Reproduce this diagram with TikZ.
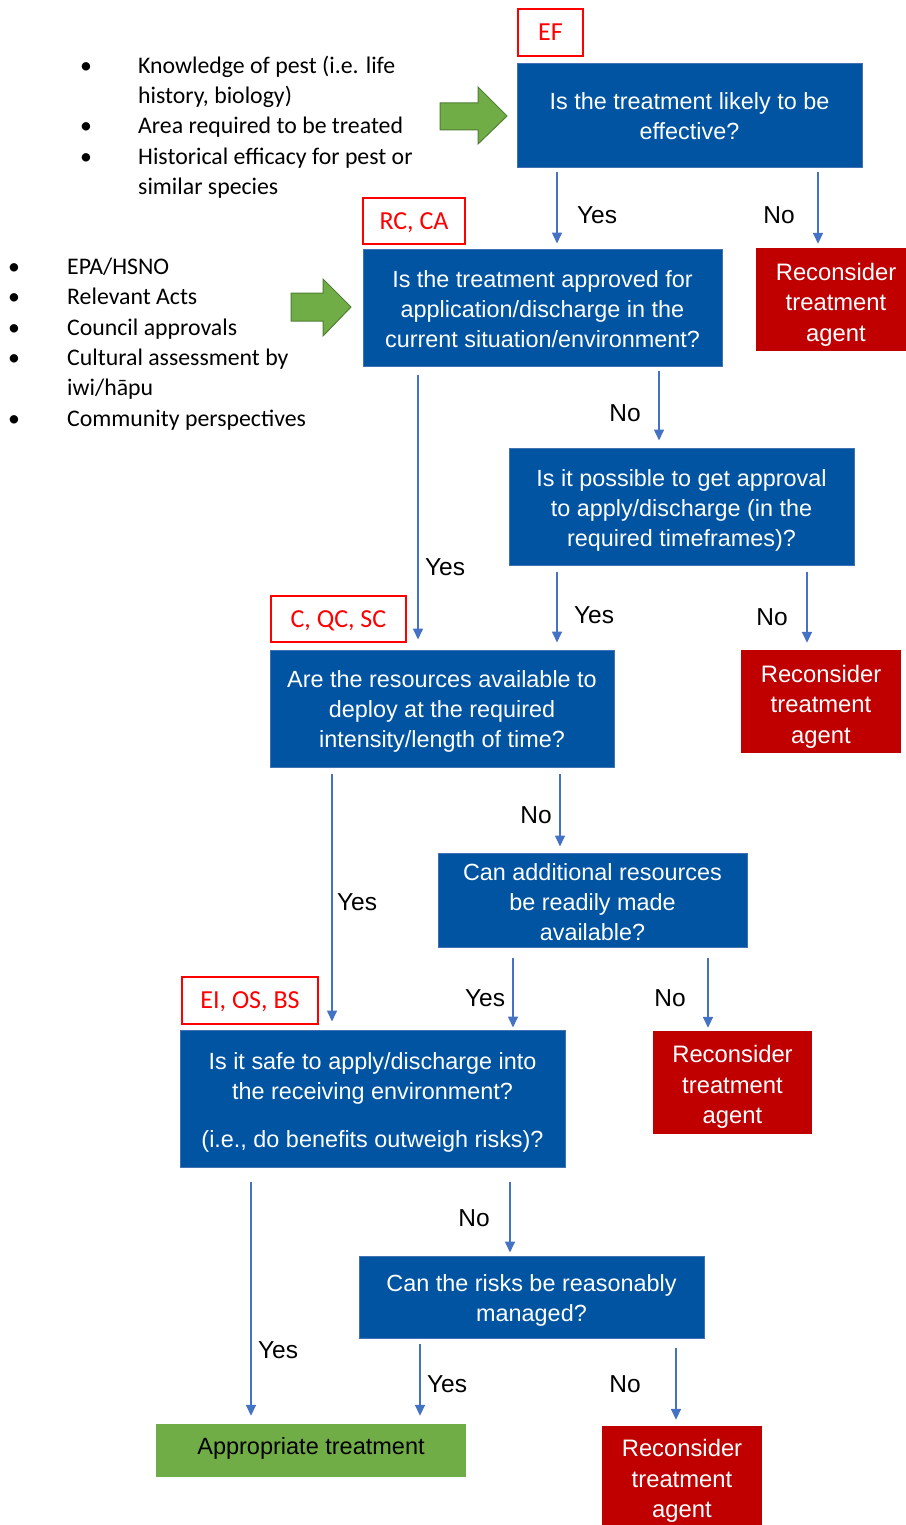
\documentclass[tikz,border=0pt]{standalone}
\usepackage{fontspec}
\setmainfont{Liberation Sans}
\newfontfamily\carl{Carlito}
\usetikzlibrary{arrows.meta}
\definecolor{qblue}{RGB}{0,84,162}
\definecolor{qedge}{RGB}{65,113,180}
\definecolor{lineblue}{RGB}{68,114,196}
\definecolor{rfill}{RGB}{192,0,0}
\definecolor{gfill}{RGB}{112,173,71}
\definecolor{gedge}{RGB}{80,126,50}
\definecolor{lred}{RGB}{255,0,0}
\begin{document}
\begin{tikzpicture}[x=1pt,y=-1pt,
  qbox/.style={rectangle, fill=qblue, draw=qedge, line width=1pt, inner sep=0pt},
  rbox/.style={rectangle, fill=rfill, inner sep=0pt},
  gbox/.style={rectangle, fill=gfill, inner sep=0pt},
  qtext/.style={text=white, align=center, inner sep=0pt, font=\fontsize{23.4}{30}\selectfont},
  rtext/.style={text=white, align=center, inner sep=0pt, font=\fontsize{23.8}{30.5}\selectfont},
  gtext/.style={text=black, align=center, inner sep=0pt, font=\fontsize{23.5}{30}\selectfont},
  lbl/.style={rectangle, fill=white, draw=lred, line width=1.5pt, text=lred, inner sep=0pt, text depth=0pt, font=\carl\fontsize{26}{30}\selectfont},
  yn/.style={inner sep=0pt, font=\fontsize{24.5}{28}\selectfont},
  btxt/.style={inner sep=0pt, anchor=base west, font=\carl\fontsize{23.8}{28}\selectfont},
  bdot/.style={inner sep=0pt, anchor=base, font=\carl\fontsize{23.8}{28}\selectfont},
  arr/.style={draw=lineblue, line width=1.6pt, -{Triangle[width=10pt,length=11pt]}},
  garrow/.style={fill=gfill, draw=gedge, line width=1pt, line join=miter}
]
\useasboundingbox (0,0) rectangle (905,1525);

% ---------- bullet list 1 ----------
\node[bdot] (ka) at (86,74) {\textbullet};
\node[btxt] (k1) at (138,74) {Knowledge of pest (i.e. life};
\node[btxt] (k2) at (138,104) {history, biology)};
\node[bdot] (kb) at (86,134) {\textbullet};
\node[btxt] (k3) at (138,134) {Area required to be treated};
\node[bdot] (kc) at (86,165) {\textbullet};
\node[btxt] (k4) at (138,165) {Historical efficacy for pest or};
\node[btxt] (k5) at (138,195) {similar species};

% ---------- bullet list 2 ----------
\node[bdot] (ea) at (14,274) {\textbullet};
\node[btxt] (e1) at (67,274) {EPA/HSNO};
\node[bdot] (eb) at (14,304) {\textbullet};
\node[btxt] (e2) at (67,304) {Relevant Acts};
\node[bdot] (ec) at (14,335) {\textbullet};
\node[btxt] (e3) at (67,335) {Council approvals};
\node[bdot] (ed) at (14,365) {\textbullet};
\node[btxt] (e4) at (67,365) {Cultural assessment by};
\node[btxt] (e5) at (67,395) {iwi/hāpu};
\node[bdot] (ee) at (14,426) {\textbullet};
\node[btxt] (e6) at (67,426) {Community perspectives};

% ---------- green arrows ----------
\draw[garrow] (440,103) -- (478,103) -- (478,87) -- (507,116) -- (478,144) -- (478,130) -- (440,130) -- cycle;
\draw[garrow] (291,293) -- (323,293) -- (323,279) -- (351,307) -- (323,336) -- (323,321) -- (291,321) -- cycle;

% ---------- red labels ----------
\node[lbl, minimum width=65pt, minimum height=47pt] (lef) at (550.5,32.5) {EF};
\node[lbl, minimum width=102pt, minimum height=46pt] (lrc) at (414,221) {RC, CA};
\node[lbl, minimum width=135pt, minimum height=46pt] (lc) at (338.5,619) {C, QC, SC};
\node[lbl, minimum width=136pt, minimum height=47pt] (lei) at (250,1000.5) {EI, OS, BS};

% ---------- boxes ----------
\node[qbox, minimum width=345pt, minimum height=104pt] (b1) at (689.5,116) {};
\node[qtext] (b1t) at (b1.center) {Is the treatment likely to be\\effective?};
\node[rbox, minimum width=160pt, minimum height=103pt] (r1) at (836,299.5) {};
\node[rtext] (r1t) at ([yshift=-5pt]r1.center) {Reconsider\\treatment\\agent};
\node[qbox, minimum width=359pt, minimum height=117pt] (b2) at (542.5,307.5) {};
\node[qtext] (b2t) at ([yshift=-2pt]b2.center) {Is the treatment approved for\\application/discharge in the\\current situation/environment?};
\node[qbox, minimum width=345pt, minimum height=117pt] (b3) at (681.5,506.5) {};
\node[qtext] (b3t) at ([yshift=-4pt]b3.center) {Is it possible to get approval\\to apply/discharge (in the\\required timeframes)?};
\node[rbox, minimum width=160pt, minimum height=103pt] (r2) at (821,701.5) {};
\node[rtext] (r2t) at ([yshift=-5pt]r2.center) {Reconsider\\treatment\\agent};
\node[qbox, minimum width=344pt, minimum height=117pt] (b4) at (442,708.5) {};
\node[qtext] (b4t) at ([yshift=-3pt]b4.center) {Are the resources available to\\deploy at the required\\intensity/length of time?};
\node[qbox, minimum width=309pt, minimum height=94pt] (b5) at (592.5,900) {};
\node[qtext] (b5t) at ([yshift=-2pt]b5.center) {Can additional resources\\be readily made\\available?};
\node[rbox, minimum width=159pt, minimum height=103pt] (r3) at (732.5,1082.5) {};
\node[rtext] (r3t) at ([yshift=-4.5pt]r3.center) {Reconsider\\treatment\\agent};
\node[qbox, minimum width=385pt, minimum height=137pt] (b6) at (372.5,1098.5) {};
\node[qtext] (b6t) at ([yshift=-4pt]b6.center) {Is it safe to apply/discharge into\\the receiving environment?\\[18pt](i.e., do benefits outweigh risks)?};
\node[qbox, minimum width=345pt, minimum height=82pt] (b7) at (531.5,1297) {};
\node[qtext] (b7t) at ([yshift=-3.5pt]b7.center) {Can the risks be reasonably\\managed?};
\node[gbox, minimum width=310pt, minimum height=53pt] (g) at (311,1450.5) {};
\node[gtext] (gt) at ([yshift=2pt]g.center) {Appropriate treatment};
\node[rbox, minimum width=160pt, minimum height=99pt] (r4) at (682,1475.5) {};
\node[rtext] (r4t) at ([yshift=-5.5pt]r4.center) {Reconsider\\treatment\\agent};

% ---------- connector columns ----------
\coordinate (c557) at (557,0);
\coordinate (c818) at (818,0);
\coordinate (c418) at (418,0);
\coordinate (c659) at (659,0);
\coordinate (c807) at (807,0);
\coordinate (c332) at (332,0);
\coordinate (c560) at (560,0);
\coordinate (c513) at (513,0);
\coordinate (c708) at (708,0);
\coordinate (c251) at (251,0);
\coordinate (c510) at (510,0);
\coordinate (c420) at (420,0);
\coordinate (c676) at (676,0);

% ---------- connectors ----------
\draw[arr, shorten <=4pt, shorten >=5pt] (b1.south -| c557) -- (b2.north -| c557);
\draw[arr, shorten <=4pt, shorten >=4pt] (b1.south -| c818) -- (r1.north -| c818);
\draw[arr, shorten <=8pt, shorten >=10pt] (b2.south -| c418) -- (b4.north -| c418);
\draw[arr, shorten <=4pt, shorten >=7pt] (b2.south -| c659) -- (b3.north -| c659);
\draw[arr, shorten <=6pt, shorten >=7pt] (b3.south -| c557) -- (b4.north -| c557);
\draw[arr, shorten <=6pt, shorten >=7pt] (b3.south -| c807) -- (r2.north -| c807);
\draw[arr, shorten <=6pt, shorten >=8pt] (b4.south -| c332) -- (b6.north -| c332);
\draw[arr, shorten <=6pt, shorten >=6pt] (b4.south -| c560) -- (b5.north -| c560);
\draw[arr, shorten <=10pt, shorten >=2pt] (b5.south -| c513) -- (b6.north -| c513);
\draw[arr, shorten <=10pt, shorten >=3pt] (b5.south -| c708) -- (r3.north -| c708);
\draw[arr, shorten <=14pt, shorten >=8pt] (b6.south -| c251) -- (g.north -| c251);
\draw[arr, shorten <=14pt, shorten >=3pt] (b6.south -| c510) -- (b7.north -| c510);
\draw[arr, shorten <=5pt, shorten >=8pt] (b7.south -| c420) -- (g.north -| c420);
\draw[arr, shorten <=9pt, shorten >=6pt] (b7.south -| c676) -- (r4.north -| c676);

% ---------- yes / no labels ----------
\node[yn] (y1) at (597,215) {Yes};
\node[yn] (n1) at (779,215) {No};
\node[yn] (n2) at (625,413) {No};
\node[yn] (y2) at (445,567) {Yes};
\node[yn] (y3) at (594,615) {Yes};
\node[yn] (n3) at (772,617) {No};
\node[yn] (n4) at (536,815) {No};
\node[yn] (y4) at (357,902) {Yes};
\node[yn] (y5) at (485,998) {Yes};
\node[yn] (n5) at (670,998) {No};
\node[yn] (n6) at (474,1218) {No};
\node[yn] (y6) at (278,1350) {Yes};
\node[yn] (y7) at (447,1384) {Yes};
\node[yn] (n7) at (625,1384) {No};
\end{tikzpicture}
\end{document}
